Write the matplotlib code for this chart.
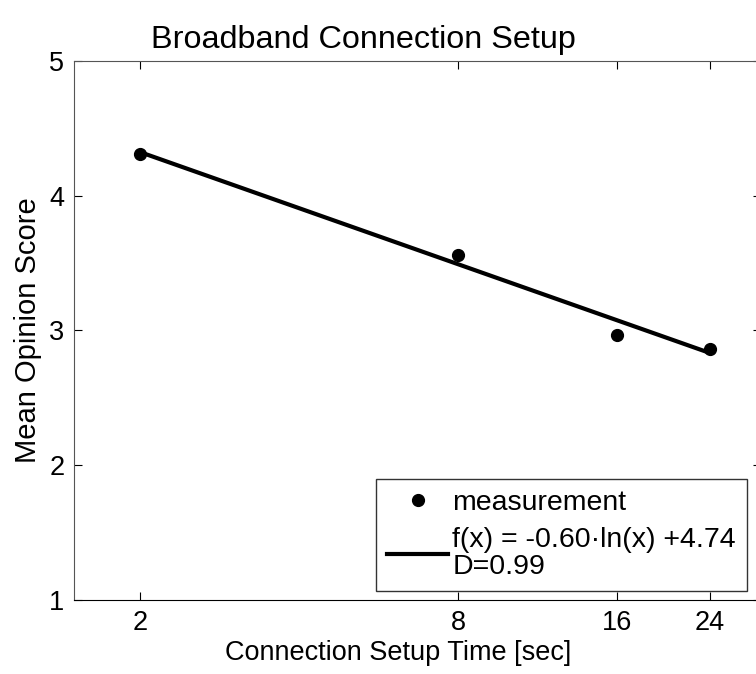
import numpy as np
import matplotlib.pyplot as plt

plt.rcParams['font.family'] = ['Liberation Sans', 'DejaVu Sans']

# Messwerte
setup_time = [2, 8, 16, 24]
mos = [4.31, 3.56, 2.97, 2.86]

# logarithmischer Fit aus der Legende
fit_a = -0.60
fit_b = 4.74
fit_x = np.array([2, 24])
fit_y = fit_a * np.log(fit_x) + fit_b

fig = plt.figure(figsize=(7.56, 6.74), dpi=100)
ax = fig.add_axes([0.0979, 0.1098, 0.9087, 0.7997])

ax.plot(setup_time, mos, 'k.', ms=17, ls='none', label='measurement')
ax.plot(fit_x, fit_y, 'k-', lw=3, label='f(x) = -0.60·ln(x) +4.74\nD=0.99')

ax.set_xscale('log')
ax.set_xlim(1.5, 30)
ax.set_ylim(1, 5)
ax.set_xticks(setup_time)
ax.set_xticklabels([str(t) for t in setup_time])
ax.minorticks_off()
ax.set_yticks([1, 2, 3, 4, 5])
ax.tick_params(direction='in', top=True, right=True, labelsize=19.5, length=6, pad=7)

for s in ['left', 'top', 'right']:
    ax.spines[s].set_color('#555555')
ax.spines['bottom'].set_color('black')

ax.set_title('Broadband Connection Setup', fontsize=23.3, pad=9, x=0.4207)
ax.set_xlabel('Connection Setup Time [sec]', fontsize=19.5, labelpad=1)
ax.xaxis.set_label_coords(0.4716, -0.075)
ax.set_ylabel('Mean Opinion Score', fontsize=21, labelpad=5)

leg = ax.legend(loc='lower right', bbox_to_anchor=(0.9795, 0.0165), fontsize=20.5,
                frameon=True, fancybox=False, edgecolor='black', handlelength=2.15,
                handletextpad=0.15, borderpad=0.38, labelspacing=0.4, borderaxespad=0)
leg.get_frame().set_linewidth(1.0)
for t in leg.get_texts():
    t.set_linespacing(1.05)

fig.savefig('out.png', dpi=100)
